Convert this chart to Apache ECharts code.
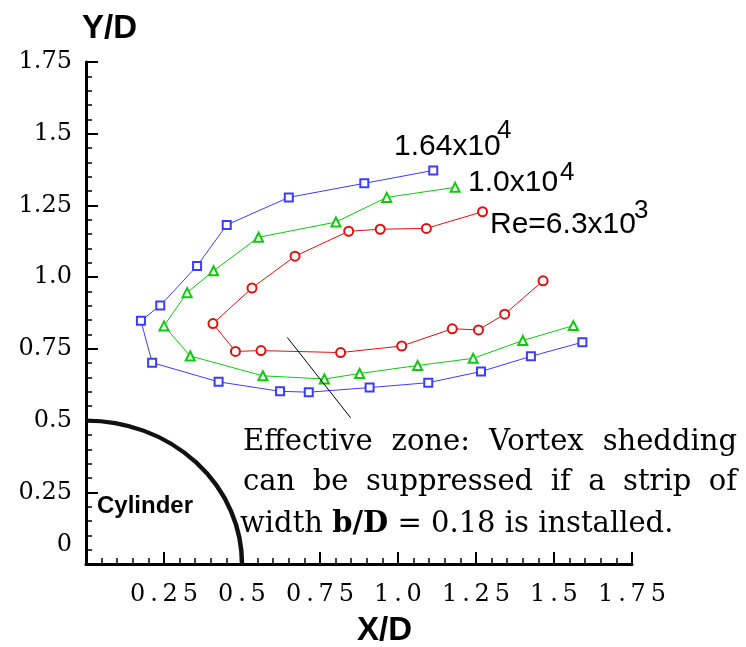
<!DOCTYPE html>
<html>
<head>
<meta charset="utf-8">
<script src="https://cdn.jsdelivr.net/npm/echarts@6/dist/echarts.min.js"></script>
<style>
  html, body { margin: 0; padding: 0; background: #fff; }
  #main { width: 746px; height: 647px; }
</style>
</head>
<body>
<div id="main"></div>
<script>
// data, [X/D, Y/D]
var re164 = [[1.113,1.372],[0.892,1.327],[0.650,1.278],[0.451,1.182],[0.356,1.039],[0.238,0.901],[0.176,0.848],
  [0.212,0.702],[0.425,0.635],[0.622,0.602],[0.714,0.599],[0.909,0.615],[1.097,0.632],[1.266,0.671],[1.426,0.724],[1.591,0.773]];
var re100 = [[1.183,1.313],[0.964,1.278],[0.801,1.192],[0.553,1.139],[0.409,1.022],[0.324,0.946],[0.250,0.830],
  [0.334,0.725],[0.567,0.656],[0.764,0.645],[0.877,0.664],[1.063,0.692],[1.241,0.717],[1.400,0.779],[1.562,0.831]];
var re63 = [[1.271,1.228],[1.091,1.170],[0.943,1.167],[0.842,1.160],[0.670,1.073],[0.532,0.962],[0.407,0.838],
  [0.479,0.741],[0.561,0.744],[0.816,0.737],[1.012,0.760],[1.174,0.820],[1.258,0.816],[1.342,0.871],[1.465,0.987]];
var leaderLine = [[0.645,0.79],[0.848,0.51]];
var cylinderRadius = 0.5;
var xTickLabels = ["", "0.25", "0.5", "0.75", "1.0", "1.25", "1.5", "1.75"];
var yTickLabels = ["", "0.25", "0.5", "0.75", "1.0", "1.25", "1.5", "1.75"];

var serif = "'DejaVu Serif', serif";
var sans = "'Liberation Sans', Arial, sans-serif";

function tickFmt(labels, spaced) {
  return function(v) {
    var s = labels[Math.round(v / 0.25)] || "";
    return spaced ? s.split("").join("\u2009") : s;
  };
}

function axisCfg(labels, spaced, margin) {
  return {
    type: "value",
    min: 0,
    max: 1.75,
    interval: 0.25,
    axisLine: { onZero: false, lineStyle: { color: "#000", width: 3 } },
    axisTick: { inside: true, length: 12, lineStyle: { color: "#000", width: 2 } },
    minorTick: { show: true, splitNumber: 5, length: 6, lineStyle: { color: "#000", width: 1.5 } },
    splitLine: { show: false },
    axisLabel: {
      formatter: tickFmt(labels, spaced),
      fontFamily: serif,
      fontSize: 24,
      color: "#000",
      margin: margin
    }
  };
}

function lineSeries(name, data, symbol, size, color) {
  return {
    name: name,
    type: "line",
    data: data,
    symbol: symbol,
    symbolSize: size,
    lineStyle: { color: color, width: 1 },
    itemStyle: { color: color, borderWidth: 1 },
    z: 3
  };
}

var chart = echarts.init(document.getElementById("main"));
var red = lineSeries("6.3x10^3", re63, "emptyCircle", 9, "#e01010");
red.markLine = {
  silent: true,
  symbol: ["none", "none"],
  label: { show: false },
  lineStyle: { color: "#000", width: 1, type: "solid" },
  data: [[{ coord: leaderLine[0] }, { coord: leaderLine[1] }]]
};

chart.setOption({
  animation: false,
  grid: { left: 86, right: 114, top: 62, bottom: 83 },
  xAxis: axisCfg(xTickLabels, true, 19),
  yAxis: axisCfg(yTickLabels, false, 14),
  series: [
    lineSeries("1.64x10^4", re164, "emptyRect", 8, "#3c3cff"),
    lineSeries("1.0x10^4", re100, "emptyTriangle", 9, "#10c810"),
    red
  ]
});

// text helpers
var ctx = document.createElement("canvas").getContext("2d");
function txt(s, x, y, size, family, weight, align) {
  return {
    type: "text", x: x, y: y, z: 10,
    style: { text: s, fontSize: size, fontFamily: family, fontWeight: weight || "normal",
      fill: "#000", align: align || "left", verticalAlign: "middle" }
  };
}
function justify(words, x0, x1, base, size) {
  ctx.font = size + "px 'DejaVu Serif'";
  var sum = 0, w = [];
  words.forEach(function(s) { var m = ctx.measureText(s).width; w.push(m); sum += m; });
  var gap = (x1 - x0 - sum) / (words.length - 1);
  var out = [], x = x0;
  words.forEach(function(s, i) {
    out.push(txt(s, x, base - 0.35 * size, size, serif));
    x += w[i] + gap;
  });
  return out;
}

var c0 = chart.convertToPixel({ gridIndex: 0 }, [0, 0]);
var c1 = chart.convertToPixel({ gridIndex: 0 }, [cylinderRadius, cylinderRadius]);
var rx = c1[0] - c0[0], ry = c0[1] - c1[1];
var noteSize = 29;

var graphics = [
  {
    type: "arc",
    shape: { cx: c0[0], cy: c0[1], r: rx, startAngle: -Math.PI / 2, endAngle: 0, clockwise: true },
    originX: c0[0], originY: c0[1], scaleY: ry / rx,
    style: { stroke: "#111", lineWidth: 4.5, fill: null, strokeNoScale: true },
    z: 5
  },
  txt("Y/D", 82, 28.5, 33, sans, "bold"),
  txt("X/D", 357, 630.5, 33, sans, "bold"),
  txt("Cylinder", 97, 506.6, 24, sans, "bold"),
  txt("0", 72, 545, 24, serif, "normal", "right"),
  txt("1.64x10", 394, 146.5, 30, sans),
  txt("4", 497, 131, 26, sans),
  txt("1.0x10", 468, 182.5, 30, sans),
  txt("4", 560, 173, 26, sans),
  txt("Re=6.3x10", 490, 224.5, 30, sans),
  txt("3", 634, 211, 26, sans),
  {
    type: "text", x: 240, y: 535 - 0.35 * noteSize, z: 10,
    style: {
      text: "{n|width }{b|b/D}{n| = 0.18 is installed.}",
      verticalAlign: "middle", align: "left", fill: "#000",
      rich: {
        n: { fontFamily: serif, fontSize: noteSize, fill: "#000" },
        b: { fontFamily: serif, fontSize: noteSize, fontWeight: "bold", fill: "#000" }
      }
    }
  }
];
graphics = graphics.concat(justify(["Effective", "zone:", "Vortex", "shedding"], 243, 737, 453, noteSize));
graphics = graphics.concat(justify(["can", "be", "suppressed", "if", "a", "strip", "of"], 243, 737, 493, noteSize));

chart.setOption({ graphic: graphics });
</script>
</body>
</html>
